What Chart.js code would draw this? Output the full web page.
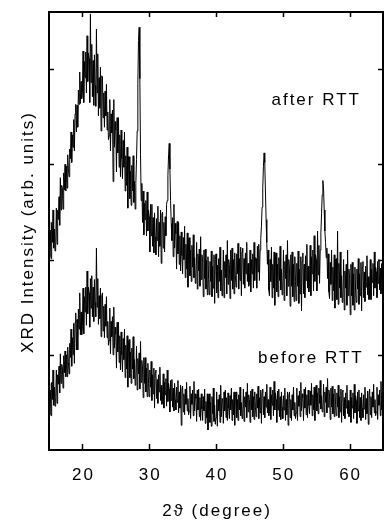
<!DOCTYPE html>
<html>
<head>
<meta charset="utf-8">
<script src="https://cdn.jsdelivr.net/npm/chart.js@4.4.0/dist/chart.umd.min.js"></script>
<style>
  body { margin: 0; background: #fff; }
  canvas { display: block; }
</style>
</head>
<body>
<canvas id="xrdChart" width="384" height="521"></canvas>
<script>
// XRD patterns, 2theta scan 15..65 deg, every 0.1 deg
// (one row = one degree)
const scanStart = 15;
const scanStep = 0.1;

const afterRTT = [
  2.40, 2.03, 2.31, 2.01, 2.39, 2.18, 2.52, 2.12, 2.32, 2.09,
  2.18, 2.54, 2.16, 2.52, 2.42, 2.66, 2.36, 2.86, 2.52, 2.78,
  2.75, 2.53, 2.91, 2.73, 3.00, 2.72, 2.98, 2.75, 3.10, 2.96,
  2.87, 3.16, 3.06, 3.34, 3.02, 3.31, 3.18, 3.47, 3.14, 3.53,
  3.63, 3.34, 3.62, 3.39, 3.78, 3.63, 3.97, 3.64, 3.87, 3.69,
  3.76, 4.19, 3.65, 4.08, 3.91, 4.18, 3.75, 4.35, 3.87, 4.17,
  4.11, 3.65, 4.58, 3.86, 4.26, 3.71, 4.09, 3.62, 4.15, 3.83,
  3.61, 4.42, 3.75, 4.16, 3.51, 3.91, 3.59, 4.02, 3.35, 3.93,
  3.92, 3.49, 3.75, 3.39, 3.77, 3.51, 3.84, 3.36, 3.55, 3.26,
  3.30, 3.68, 3.14, 3.53, 3.33, 3.57, 2.82, 3.68, 3.18, 3.45,
  3.36, 2.92, 3.49, 3.12, 3.49, 2.97, 3.31, 2.87, 3.36, 3.06,
  2.85, 3.25, 2.97, 3.34, 2.72, 3.09, 2.78, 3.18, 2.54, 3.08,
  3.08, 2.64, 2.93, 2.57, 2.99, 2.72, 3.09, 2.60, 2.82, 2.53,
  2.80, 3.05, 3.35, 3.85, 4.30, 4.44, 3.90, 3.10, 2.62, 2.80,
  2.39, 2.72, 2.26, 2.59, 2.42, 2.62, 2.25, 2.71, 2.30, 2.52,
  2.45, 2.08, 2.58, 2.25, 2.58, 2.14, 2.44, 2.07, 2.49, 2.24,
  2.05, 2.43, 2.20, 2.56, 2.03, 2.39, 2.14, 2.52, 1.96, 2.48,
  2.50, 2.12, 2.39, 2.08, 2.45, 2.25, 2.58, 2.62, 2.88, 3.10,
  3.22, 2.95, 2.62, 2.38, 2.20, 2.44, 2.03, 2.58, 2.12, 2.38,
  2.27, 1.90, 2.40, 2.06, 2.39, 1.95, 2.25, 1.88, 2.29, 2.04,
  1.85, 2.23, 2.00, 2.35, 1.81, 2.16, 1.90, 2.28, 1.71, 2.21,
  2.23, 1.83, 2.10, 1.77, 2.15, 1.92, 2.26, 1.81, 2.02, 1.75,
  1.81, 2.18, 1.69, 2.06, 1.88, 2.11, 1.72, 2.24, 1.79, 2.05,
  1.97, 1.61, 2.10, 1.80, 2.11, 1.69, 1.99, 1.63, 2.03, 1.79,
  1.63, 1.98, 1.77, 2.09, 1.61, 1.93, 1.70, 2.05, 1.54, 2.00,
  2.06, 1.65, 1.94, 1.60, 2.01, 1.77, 2.13, 1.67, 1.89, 1.62,
  1.72, 2.10, 1.60, 1.98, 1.81, 2.05, 1.64, 2.20, 1.74, 2.00,
  1.95, 1.59, 2.10, 1.78, 2.12, 1.69, 2.00, 1.64, 2.07, 1.83,
  1.71, 2.06, 1.85, 2.17, 1.69, 2.01, 1.78, 2.13, 1.62, 2.08,
  2.12, 1.74, 2.01, 1.70, 2.07, 1.85, 2.18, 1.77, 1.96, 1.72,
  1.76, 2.10, 1.66, 2.00, 1.85, 2.06, 1.70, 2.18, 1.78, 2.02,
  2.01, 1.70, 2.14, 1.87, 2.16, 1.78, 2.10, 2.22, 2.35, 2.55,
  2.75, 2.98, 3.12, 3.02, 2.72, 2.42, 2.18, 1.95, 2.10, 1.68,
  1.62, 2.00, 1.77, 2.13, 1.60, 1.95, 1.70, 2.08, 1.52, 2.03,
  2.07, 1.66, 1.95, 1.61, 2.02, 1.78, 2.14, 1.68, 1.90, 1.63,
  1.70, 2.10, 1.57, 1.98, 1.80, 2.05, 1.62, 2.20, 1.72, 2.00,
  1.90, 1.51, 2.05, 1.72, 2.08, 1.61, 1.95, 1.56, 2.03, 1.77,
  1.57, 1.96, 1.72, 2.09, 1.54, 1.90, 1.64, 2.03, 1.46, 1.98,
  2.07, 1.64, 1.95, 1.60, 2.04, 1.78, 2.16, 1.70, 1.93, 1.66,
  1.75, 2.15, 1.62, 2.03, 1.85, 2.10, 1.67, 2.25, 1.77, 2.05,
  2.00, 1.67, 2.30, 1.84, 2.15, 1.75, 2.10, 2.28, 2.48, 2.68,
  2.83, 2.74, 2.52, 2.30, 2.18, 2.02, 2.12, 1.80, 2.06, 1.66,
  1.59, 1.97, 1.74, 2.10, 1.57, 1.92, 1.67, 2.05, 1.49, 2.00,
  2.01, 1.58, 2.30, 1.53, 1.96, 1.70, 2.08, 1.60, 1.83, 1.55,
  1.60, 2.00, 1.47, 1.88, 1.70, 1.95, 1.52, 2.10, 1.62, 1.90,
  1.80, 1.42, 1.95, 1.62, 1.97, 1.52, 1.85, 1.47, 1.92, 1.67,
  1.55, 1.90, 1.69, 2.01, 1.53, 1.85, 1.62, 1.97, 1.46, 1.92,
  1.98, 1.60, 1.87, 1.56, 1.93, 1.71, 2.04, 1.63, 1.82, 1.58,
  1.68, 2.00, 1.58, 1.90, 1.76, 1.96, 1.62, 2.08, 1.70, 1.92,
  1.87, 1.60, 1.98, 1.75, 2.00, 1.68, 1.91, 1.64, 1.96, 1.78,
  1.84
];

const beforeRTT = [
  0.70, 0.37, 0.63, 0.36, 0.71, 0.53, 0.84, 0.47, 0.66, 0.46,
  0.55, 0.84, 0.49, 0.79, 0.69, 0.88, 0.60, 1.01, 0.70, 0.90,
  0.87, 0.65, 0.99, 0.81, 1.04, 0.77, 1.00, 0.77, 1.08, 0.93,
  0.80, 1.12, 0.97, 1.27, 0.88, 1.18, 1.00, 1.33, 0.91, 1.34,
  1.44, 1.05, 1.37, 1.05, 1.48, 1.27, 1.65, 1.21, 1.45, 1.21,
  1.31, 1.70, 1.22, 1.61, 1.45, 1.71, 1.31, 1.88, 1.43, 1.71,
  1.65, 1.29, 1.80, 1.49, 1.83, 1.40, 1.71, 1.35, 1.79, 1.55,
  1.40, 2.12, 1.50, 1.80, 1.32, 1.62, 1.38, 1.70, 1.19, 1.62,
  1.65, 1.25, 1.51, 1.18, 1.53, 1.30, 1.61, 1.18, 1.35, 1.10,
  1.15, 1.49, 1.01, 1.35, 1.19, 1.40, 1.00, 1.50, 1.07, 1.29,
  1.22, 0.86, 1.34, 1.03, 1.34, 0.92, 1.20, 0.84, 1.24, 1.00,
  0.82, 1.17, 0.95, 1.27, 0.76, 1.10, 0.85, 1.20, 0.66, 1.13,
  1.16, 0.76, 1.03, 0.70, 1.07, 0.85, 1.19, 0.75, 0.95, 0.68,
  0.75, 1.09, 0.63, 0.96, 0.80, 1.02, 0.64, 1.14, 0.71, 0.94,
  0.86, 0.55, 0.97, 0.70, 0.97, 0.61, 0.86, 0.56, 0.91, 0.70,
  0.56, 0.84, 0.66, 0.93, 0.52, 0.79, 0.59, 0.86, 0.44, 0.81,
  0.84, 0.54, 0.74, 0.49, 0.79, 0.61, 0.87, 0.52, 0.68, 0.48,
  0.53, 0.80, 0.44, 0.71, 0.58, 0.75, 0.46, 0.84, 0.51, 0.70,
  0.64, 0.40, 0.73, 0.52, 0.74, 0.45, 0.65, 0.41, 0.70, 0.53,
  0.42, 0.66, 0.50, 0.73, 0.39, 0.61, 0.44, 0.68, 0.26, 0.64,
  0.67, 0.40, 0.59, 0.37, 0.64, 0.48, 0.71, 0.41, 0.54, 0.37,
  0.41, 0.67, 0.33, 0.59, 0.48, 0.63, 0.36, 0.72, 0.41, 0.59,
  0.54, 0.30, 0.63, 0.42, 0.64, 0.35, 0.55, 0.31, 0.59, 0.43,
  0.31, 0.56, 0.41, 0.64, 0.28, 0.51, 0.34, 0.59, 0.21, 0.55,
  0.59, 0.29, 0.50, 0.25, 0.56, 0.38, 0.65, 0.30, 0.47, 0.27,
  0.34, 0.61, 0.25, 0.53, 0.41, 0.58, 0.29, 0.68, 0.35, 0.54,
  0.52, 0.28, 0.61, 0.41, 0.63, 0.34, 0.55, 0.31, 0.60, 0.44,
  0.33, 0.57, 0.42, 0.65, 0.31, 0.53, 0.37, 0.61, 0.26, 0.58,
  0.61, 0.34, 0.53, 0.31, 0.58, 0.42, 0.66, 0.36, 0.50, 0.33,
  0.38, 0.64, 0.30, 0.56, 0.45, 0.61, 0.34, 0.70, 0.40, 0.58,
  0.53, 0.29, 0.62, 0.42, 0.64, 0.35, 0.56, 0.32, 0.61, 0.45,
  0.35, 0.59, 0.44, 0.67, 0.33, 0.55, 0.39, 0.63, 0.28, 0.60,
  0.64, 0.37, 0.56, 0.34, 0.61, 0.45, 0.69, 0.39, 0.53, 0.36,
  0.40, 0.66, 0.32, 0.58, 0.47, 0.63, 0.36, 0.72, 0.42, 0.60,
  0.53, 0.29, 0.62, 0.42, 0.64, 0.35, 0.56, 0.32, 0.61, 0.45,
  0.33, 0.57, 0.42, 0.65, 0.31, 0.53, 0.37, 0.61, 0.26, 0.58,
  0.61, 0.34, 0.53, 0.31, 0.58, 0.42, 0.66, 0.36, 0.50, 0.33,
  0.39, 0.65, 0.31, 0.57, 0.46, 0.62, 0.35, 0.71, 0.41, 0.59,
  0.55, 0.31, 0.64, 0.44, 0.66, 0.37, 0.58, 0.34, 0.63, 0.47,
  0.38, 0.62, 0.47, 0.70, 0.36, 0.58, 0.42, 0.66, 0.31, 0.63,
  0.68, 0.41, 0.60, 0.38, 0.65, 0.49, 0.73, 0.43, 0.57, 0.40,
  0.43, 0.69, 0.35, 0.61, 0.50, 0.66, 0.39, 0.75, 0.45, 0.63,
  0.56, 0.32, 0.65, 0.45, 0.67, 0.38, 0.59, 0.35, 0.64, 0.48,
  0.36, 0.60, 0.45, 0.68, 0.34, 0.56, 0.40, 0.64, 0.29, 0.61,
  0.63, 0.36, 0.55, 0.33, 0.60, 0.44, 0.68, 0.38, 0.52, 0.35,
  0.37, 0.63, 0.29, 0.55, 0.44, 0.60, 0.33, 0.69, 0.39, 0.57,
  0.52, 0.28, 0.61, 0.41, 0.63, 0.34, 0.55, 0.31, 0.60, 0.44,
  0.34, 0.58, 0.43, 0.66, 0.32, 0.54, 0.38, 0.62, 0.27, 0.59,
  0.64, 0.37, 0.56, 0.34, 0.61, 0.45, 0.69, 0.39, 0.53, 0.36,
  0.40, 0.66, 0.32, 0.58, 0.47, 0.63, 0.36, 0.72, 0.42, 0.60,
  0.50
];

const seriesNames = ['after RTT', 'before RTT'];
const xTicks = [20, 30, 40, 50, 60];
const yTicks = [1, 2, 3, 4];   // unlabelled marks only
const xTitle = '2\u03d1 (degree)';
const yTitle = 'XRD Intensity (arb. units)';

const FONT = '17px "Liberation Sans", Arial, Helvetica, sans-serif';

function toPoints(values) {
    return values.map((v, i) => ({ x: scanStart + i * scanStep, y: v }));
}

// frame, inward ticks and all the text
const framePlugin = {
    id: 'frame',
    afterDraw(chart) {
        const ctx = chart.ctx;
        const a = chart.chartArea;
        const xs = chart.scales.x;
        const ys = chart.scales.y;

        ctx.save();
        ctx.strokeStyle = '#000';
        ctx.lineWidth = 2;
        ctx.strokeRect(a.left, a.top, a.right - a.left, a.bottom - a.top);

        ctx.lineWidth = 1.5;
        ctx.beginPath();
        xTicks.forEach(v => {
            const px = Math.round(xs.getPixelForValue(v)) + 0.5;
            ctx.moveTo(px, a.top); ctx.lineTo(px, a.top + 5);
            ctx.moveTo(px, a.bottom); ctx.lineTo(px, a.bottom - 6);
        });
        yTicks.forEach(v => {
            const py = Math.round(ys.getPixelForValue(v)) + 0.5;
            ctx.moveTo(a.left, py); ctx.lineTo(a.left + 5, py);
            ctx.moveTo(a.right, py); ctx.lineTo(a.right - 5, py);
        });
        ctx.stroke();

        ctx.fillStyle = '#000';
        ctx.font = FONT;
        ctx.letterSpacing = '2px';
        ctx.textAlign = 'center';
        ctx.textBaseline = 'alphabetic';

        xTicks.forEach(v => {
            ctx.fillText(String(v), xs.getPixelForValue(v) + 1, 480);
        });
        ctx.fillText(xTitle, (a.left + a.right) / 2 + 1, 516);

        // series names sit next to their curves
        ctx.fillText(seriesNames[0], xs.getPixelForValue(55.0), ys.getPixelForValue(3.62));
        ctx.fillText(seriesNames[1], xs.getPixelForValue(54.2), ys.getPixelForValue(0.91));

        ctx.translate(33, (a.top + a.bottom) / 2 + 1);
        ctx.rotate(-Math.PI / 2);
        ctx.fillText(yTitle, 0, 0);
        ctx.restore();
    }
};

const ctx = document.getElementById('xrdChart').getContext('2d');
const xrdChart = new Chart(ctx, {
    type: 'line',
    data: {
        datasets: [
            {
                label: seriesNames[0],
                data: toPoints(afterRTT),
                borderColor: '#000',
                borderWidth: 1,
                pointRadius: 0,
                tension: 0,
                fill: false
            },
            {
                label: seriesNames[1],
                data: toPoints(beforeRTT),
                borderColor: '#000',
                borderWidth: 1,
                pointRadius: 0,
                tension: 0,
                fill: false
            }
        ]
    },
    options: {
        responsive: false,
        animation: false,
        devicePixelRatio: 1,
        layout: { padding: { left: 0, right: 1, top: 12, bottom: 0 } },
        plugins: {
            legend: { display: false },
            tooltip: { enabled: false }
        },
        scales: {
            x: {
                type: 'linear',
                min: 15,
                max: 65,
                ticks: { display: false },
                grid: { display: false },
                border: { display: false },
                afterFit: s => { s.height = 71; }
            },
            y: {
                min: 0,
                max: 4.6,
                ticks: { display: false },
                grid: { display: false },
                border: { display: false },
                afterFit: s => { s.width = 49; }
            }
        }
    },
    plugins: [framePlugin]
});
</script>
</body>
</html>
